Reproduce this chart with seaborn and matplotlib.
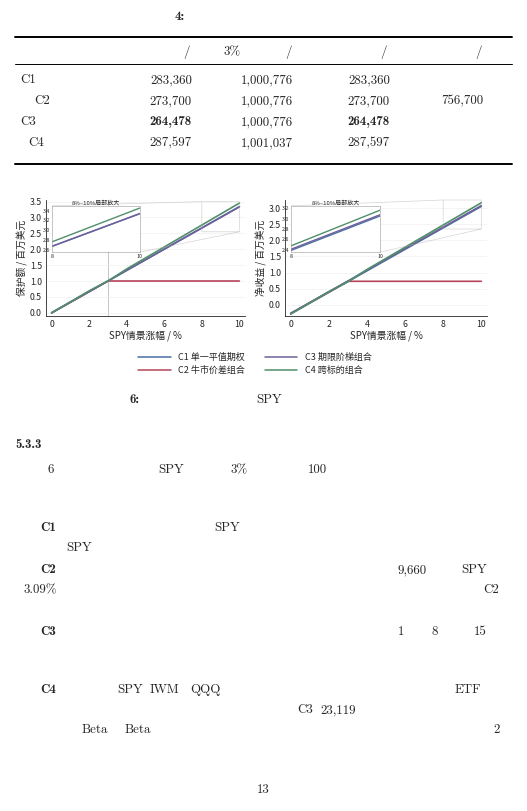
import matplotlib
matplotlib.use("Agg")
import matplotlib.pyplot as plt
import seaborn as sns
import pandas as pd

# ---------------- data ----------------
SPY_MOVE = [0, 2, 3, 4, 6, 8, 10]
PROTECT = {
    "C1 单一平值期权": [0.0, 0.667, 1.001, 1.334, 2.001, 2.668, 3.335],
    "C2 牛市价差组合": [0.0, 0.667, 1.001, 1.001, 1.001, 1.001, 1.001],
    "C3 期限阶梯组合": [0.0, 0.668, 1.001, 1.338, 2.005, 2.672, 3.340],
    "C4 跨标的组合": [0.0, 0.692, 1.001, 1.381, 2.072, 2.762, 3.452],
}
NET = {
    "C1 单一平值期权": [-0.283, 0.384, 0.717, 1.051, 1.718, 2.385, 3.052],
    "C2 牛市价差组合": [-0.274, 0.393, 0.727, 0.727, 0.727, 0.727, 0.727],
    "C3 期限阶梯组合": [-0.264, 0.404, 0.737, 1.074, 1.741, 2.408, 3.076],
    "C4 跨标的组合": [-0.288, 0.404, 0.713, 1.093, 1.784, 2.474, 3.164],
}
COLORS = ["#4a6fa5", "#b5455a", "#6f5f9a", "#4f8f6a"]

TAB_NAMES = ["C1", "C2", "C3", "C4"]
TAB_COST = ["283,360", "273,700", "264,478", "287,597"]
TAB_VALUE = ["1,000,776", "1,000,776", "1,000,776", "1,001,037"]
TAB_BREAK = ["283,360", "273,700", "264,478", "287,597"]
TAB_CAP = ["", "756,700", "", ""]

W, H = 527, 811
fig = plt.figure(figsize=(W / 100, H / 100), dpi=100)
sns.set_theme(style="white")
plt.rcParams["font.family"] = ["Noto Sans CJK SC", "DejaVu Sans"]
plt.rcParams["axes.unicode_minus"] = False

SERIF = "cmr10"
BOLD = "cmb10"
FS = 9.3


def px(x, y):
    return x / W, 1 - y / H


def txt(x, y, s, bold=False, ha="left", size=FS):
    fig.text(*px(x, y), s, ha=ha, va="center", fontsize=size,
             family=BOLD if bold else SERIF)


def rule(y, lw):
    fig.add_artist(plt.Line2D([15 / W, 512 / W], [1 - y / H] * 2,
                              color="black", lw=lw, transform=fig.transFigure))


# ---------------- table ----------------
txt(175, 17, "4:", bold=True)
rule(37, 1.4)
for x, s in [(183, "/"), (224, "3%"), (285, "/"), (380, "/"), (475, "/")]:
    txt(x, 52, s)
rule(64, 0.7)
rows_y = [80, 101, 122, 143]
name_x = [20, 34, 20, 28]
for i, y in enumerate(rows_y):
    b = i == 2
    txt(name_x[i], y, TAB_NAMES[i])
    txt(192, y, TAB_COST[i], bold=b, ha="right")
    txt(293, y, TAB_VALUE[i], ha="right")
    txt(390, y, TAB_BREAK[i], bold=b, ha="right")
    txt(483, y, TAB_CAP[i], ha="right")
rule(164, 1.4)

# ---------------- charts ----------------
def to_long(d):
    rows = []
    for name, vals in d.items():
        for x, v in zip(SPY_MOVE, vals):
            rows.append({"x": x, "y": v, "组合": name})
    return pd.DataFrame(rows)


def panel(rect, data, ylabel, ylim, yticks, inset_ylim, inset_yticks, vline):
    ax = fig.add_axes(rect)
    df = to_long(data)
    ax.grid(axis="y", color="#f0f0f0", lw=0.5)
    if vline:
        ax.axvline(3, color="#bbbbbb", lw=0.6, zorder=0)
    sns.lineplot(data=df, x="x", y="y", hue="组合", palette=COLORS,
                 ax=ax, lw=1.2, legend=False)
    ax.set_xlim(-0.3, 10.3)
    ax.set_ylim(*ylim)
    ax.set_yticks(yticks)
    ax.set_xticks([0, 2, 4, 6, 8, 10])
    ax.set_xlabel("SPY情景涨幅 / %", fontsize=7, labelpad=1)
    ax.set_ylabel(ylabel, fontsize=7, labelpad=1)
    ax.tick_params(labelsize=6.3, length=2, pad=1)
    sns.despine(ax=ax)
    for s in ax.spines.values():
        s.set_linewidth(0.6)
    ins = ax.inset_axes([0.03, 0.55, 0.44, 0.40])
    sns.lineplot(data=df, x="x", y="y", hue="组合", palette=COLORS,
                 ax=ins, lw=1.0, legend=False)
    ins.set_xlim(8, 10)
    ins.set_ylim(*inset_ylim)
    ins.set_xticks([8, 10])
    ins.set_yticks(inset_yticks)
    ins.set_xlabel("")
    ins.set_ylabel("")
    ins.tick_params(labelsize=3.8, length=1, pad=0.5)
    ins.set_title("8%–10%局部放大", fontsize=4.3, pad=1)
    for s in ins.spines.values():
        s.set_linewidth(0.4)
        s.set_color("#999999")
    ax.indicate_inset_zoom(ins, edgecolor="#aaaaaa", lw=0.5)
    return ax


panel([46 / W, 1 - 316 / H, 199 / W, 116 / H], PROTECT, "保护额 / 百万美元",
      (-0.1, 3.55), [0, 0.5, 1, 1.5, 2, 2.5, 3, 3.5],
      (2.55, 3.5), [2.6, 2.8, 3.0, 3.2, 3.4], True)
panel([285 / W, 1 - 316 / H, 202 / W, 116 / H], NET, "净收益 / 百万美元",
      (-0.35, 3.25), [0, 0.5, 1, 1.5, 2, 2.5, 3],
      (2.35, 3.25), [2.4, 2.6, 2.8, 3.0, 3.2], False)

handles = [plt.Line2D([], [], color=c, lw=1.1) for c in COLORS]
fig.legend(handles, list(PROTECT.keys()), ncol=2, frameon=False,
           loc="center", bbox_to_anchor=(255 / W, 1 - 364 / H),
           fontsize=6.5, handlelength=3.6, columnspacing=2.2,
           labelspacing=0.5)

# ---------------- body text ----------------
txt(130, 400, "6:", bold=True)
txt(256, 400, "SPY")
txt(15, 445, "5.3.3", bold=True)
body = [
    (470, [(48, "6", 0), (158, "SPY", 0), (230, "3%", 0), (308, "100", 0)]),
    (528, [(40, "C1", 1), (214, "SPY", 0)]),
    (548, [(66, "SPY", 0)]),
    (570, [(40, "C2", 1), (398, "9,660", 0), (461, "SPY", 0)]),
    (590, [(24, "3.09%", 0), (483, "C2", 0)]),
    (632, [(40, "C3", 1), (398, "1", 0), (432, "8", 0), (474, "15", 0)]),
    (690, [(40, "C4", 1), (117, "SPY", 0), (150, "IWM", 0), (190, "QQQ", 0),
           (455, "ETF", 0)]),
    (710, [(297, "C3", 0), (320, "23,119", 0)]),
    (730, [(82, "Beta", 0), (125, "Beta", 0), (493, "2", 0)]),
]
for y, items in body:
    for x, s, b in items:
        txt(x, y, s, bold=bool(b))
txt(257, 790, "13")

fig.savefig("out.png", dpi=100)
